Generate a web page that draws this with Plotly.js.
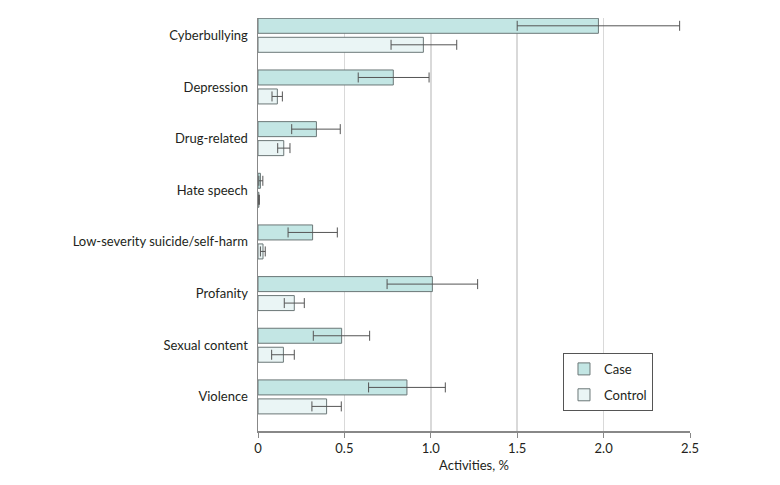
<!DOCTYPE html>
<html>
<head>
<meta charset="utf-8">
<script src="https://cdn.plot.ly/plotly-3.0.1.min.js"></script>
<style>html,body{margin:0;padding:0;background:#fff;}#chart{width:780px;height:485px;}</style>
</head>
<body>
<div id="chart"></div>
<script>
const categories = ["Cyberbullying", "Depression", "Drug-related", "Hate speech",
  "Low-severity suicide/self-harm", "Profanity", "Sexual content", "Violence"];
const caseValues   = [1.97, 0.783, 0.338, 0.014, 0.316, 1.009, 0.484, 0.862];
const caseLower    = [1.50, 0.58, 0.195, 0.005, 0.174, 0.747, 0.32, 0.64];
const caseUpper    = [2.44, 0.99, 0.476, 0.028, 0.459, 1.271, 0.646, 1.084];
const controlValues = [0.957, 0.112, 0.149, 0.005, 0.029, 0.21, 0.147, 0.397];
const controlLower  = [0.77, 0.081, 0.114, 0.002, 0.014, 0.152, 0.079, 0.312];
const controlUpper  = [1.15, 0.141, 0.185, 0.008, 0.042, 0.268, 0.21, 0.482];
const xTickVals = [0, 0.5, 1.0, 1.5, 2.0, 2.5];
const xTickText = ["0", "0.5", "1.0", "1.5", "2.0", "2.5"];

function errs(v, lo, hi) {
  return {
    type: "data", symmetric: false,
    array: hi.map((h, i) => h - v[i]),
    arrayminus: v.map((x, i) => x - lo[i]),
    color: "#555555", thickness: 1, width: 5
  };
}

const traces = [
  {
    type: "bar", orientation: "h", name: "Case", legendgroup: "a",
    y: categories, x: caseValues,
    marker: {color: "#c3e6e4", line: {color: "#6b7777", width: 1}},
    error_x: errs(caseValues, caseLower, caseUpper)
  },
  {
    type: "bar", orientation: "h", name: "Control", legendgroup: "b",
    y: categories, x: controlValues,
    marker: {color: "#eaf5f5", line: {color: "#6b7777", width: 1}},
    error_x: errs(controlValues, controlLower, controlUpper)
  }
];

const layout = {
  width: 780, height: 485,
  margin: {l: 258, r: 90, t: 18, b: 54},
  paper_bgcolor: "#ffffff", plot_bgcolor: "#ffffff",
  font: {family: "Lato, 'Noto Sans', sans-serif", size: 13, color: "#231f20"},
  barmode: "group", bargap: 0.265, bargroupgap: 0.21,
  showlegend: true,
  legend: {
    x: 0.706, y: 0.189, xanchor: "left", yanchor: "top",
    bordercolor: "#555555", borderwidth: 1, bgcolor: "#ffffff",
    font: {size: 13, color: "#231f20"}, traceorder: "grouped", tracegroupgap: 6,
    itemwidth: 30
  },
  xaxis: {
    range: [0, 2.5], tickvals: xTickVals, ticktext: xTickText,
    showgrid: true, gridcolor: "#d9d9d9", gridwidth: 1.5,
    zeroline: false, showline: true, linecolor: "#888888", linewidth: 1.5,
    ticks: "outside", ticklen: 5, tickcolor: "#888888",
    tickfont: {size: 13, color: "#231f20"},
    title: {text: "Activities, %", font: {size: 13, color: "#231f20"}, standoff: 6}
  },
  yaxis: {
    type: "category", autorange: false, range: [7.66, -0.335],
    showgrid: false, zeroline: false, showline: true, linecolor: "#888888", linewidth: 1.5,
    ticks: "", ticklabelstandoff: 6,
    tickfont: {size: 13, color: "#231f20"}
  }
};

Plotly.newPlot("chart", traces, layout, {displayModeBar: false, staticPlot: true});
</script>
</body>
</html>
